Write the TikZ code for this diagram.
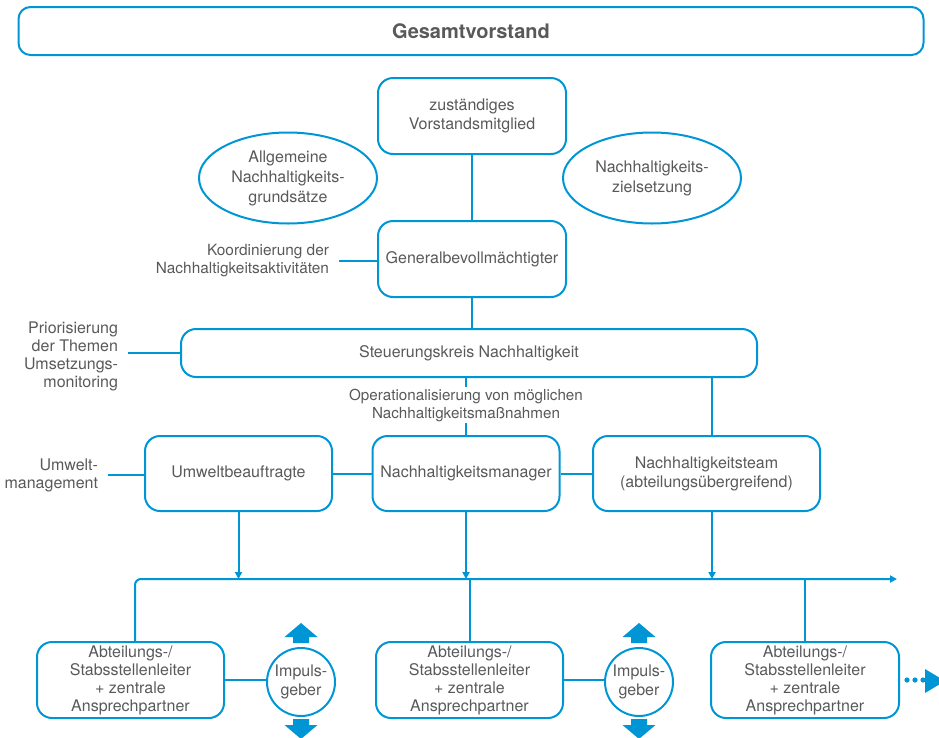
\documentclass[tikz,border=0pt]{standalone}
\usepackage{fontspec}
\setmainfont{TeX Gyre Heros}
\usepackage{xcolor}
\usetikzlibrary{positioning,arrows.meta,shapes.geometric}
\definecolor{blau}{RGB}{0,150,214}
\definecolor{grau}{RGB}{88,89,91}
\tikzset{
  box/.style={draw=blau, line width=2pt, rounded corners=15pt, align=center,
              text=grau, inner sep=0pt, font=\fontsize{16}{19}\selectfont},
  oval/.style={ellipse, draw=blau, line width=2pt, align=center, text=grau,
               inner sep=0pt, minimum width=178pt, minimum height=91pt,
               font=\fontsize{16}{20}\selectfont},
  note/.style={align=right, text=grau, inner sep=0pt, outer sep=10pt,
               font=\fontsize{16}{18}\selectfont},
  impuls/.style={circle, draw=blau, line width=2pt, align=center, text=grau,
                 inner sep=0pt, minimum size=68pt, font=\fontsize{16}{19}\selectfont},
  line/.style={draw=blau, line width=2pt},
  impulspfeil/.pic={\fill[blau] (-8,0) -- (-8,-6) -- (-16.5,-6) -- (0,-20)
                    -- (16.5,-6) -- (8,-6) -- (8,0) -- cycle;}
}
\begin{document}
\begin{tikzpicture}[x=1pt,y=-1pt,>={Triangle[length=7pt,width=7pt]}]
\useasboundingbox (0,0) rectangle (939,737);
% obere Ebene
\node[box, rounded corners=12pt, minimum width=905pt, minimum height=48pt,
      font=\fontsize{20}{22}\selectfont\bfseries] (gesamt) at (471,31) {Gesamtvorstand};
\node[box, minimum width=188pt, minimum height=76pt] (vorstand) at (472,116)
     {zuständiges\\Vorstandsmitglied};
\node[oval] (grundsaetze) at (288,178) {Allgemeine\\Nachhaltigkeits-\\grundsätze};
\node[oval] (ziel) at (652,178) {Nachhaltigkeits-\\zielsetzung};
\node[box, minimum width=188pt, minimum height=76pt] (general) at (472,259)
     {Generalbevollmächtigter};
\node[note, anchor=east, font=\fontsize{15.4}{18}\selectfont] (koord) at (339,261)
     {Koordinierung der\\Nachhaltigkeitsaktivitäten};
\node[box, minimum width=576pt, minimum height=48pt] (steuerung) at (469,353)
     {Steuerungskreis Nachhaltigkeit};
\node[note, anchor=east] (prior) at (128,356) {Priorisierung\\der Themen\\Umsetzungs-\\monitoring};
% mittlere Ebene
\node[box, minimum width=187pt, minimum height=75pt] (umwelt) at (238.5,473.5) {Umweltbeauftragte};
\node[box, minimum width=187pt, minimum height=75pt] (manager) at (466,473.5) {Nachhaltigkeitsmanager};
\node[box, minimum width=227pt, minimum height=75pt] (team) at (706.5,473.5)
     {Nachhaltigkeitsteam\\(abteilungsübergreifend)};
\node[note, anchor=east] (umweltnote) at (108,475) {Umwelt-\\management};
% untere Ebene
\node[box, minimum width=187pt, minimum height=76pt, font=\fontsize{16}{18}\selectfont] (abt1) at (130.5,680)
     {Abteilungs-/\\Stabsstellenleiter\\+ zentrale\\Ansprechpartner};
\node[box, minimum width=187pt, minimum height=76pt, font=\fontsize{16}{18}\selectfont] (abt2) at (469.5,680)
     {Abteilungs-/\\Stabsstellenleiter\\+ zentrale\\Ansprechpartner};
\node[box, minimum width=188pt, minimum height=76pt, font=\fontsize{16}{18}\selectfont] (abt3) at (805,680)
     {Abteilungs-/\\Stabsstellenleiter\\+ zentrale\\Ansprechpartner};
\node[impuls] (imp1) at (301,682) {Impuls-\\geber};
\node[impuls] (imp2) at (639,682) {Impuls-\\geber};
\coordinate (busL) at (135,579);
\coordinate (busR) at (897,579);
% Verbindungen
\draw[line] (vorstand) -- (general);
\draw[line] (general.south) -- (general.south |- steuerung.north);
\draw[line] (koord.east) -- (koord.east -| general.west);
\draw[line] (steuerung.west) -- (steuerung.west -| prior.east);
\draw[line] (manager.north) -- (manager.north |- steuerung.south);
\draw[line] ([xshift=5.5pt]team.north) -- ([xshift=5.5pt]team.north |- steuerung.south);
\node[text=grau, fill=white, inner sep=2pt, align=center,
      font=\fontsize{15.2}{18}\selectfont] (oper) at (466,405)
     {Operationalisierung von möglichen\\Nachhaltigkeitsmaßnahmen};
\draw[line] (umweltnote.east) -- (umweltnote.east -| umwelt.west);
\draw[line] (umwelt) -- (manager);
\draw[line] (manager) -- (team);
\draw[line,->] (umwelt.south) -- (umwelt.south |- busL);
\draw[line,->] (manager.south) -- (manager.south |- busL);
\draw[line,->] ([xshift=5.5pt]team.south) -- ([xshift=5.5pt]team.south |- busL);
\draw[line,->,rounded corners=6pt] (busL |- abt1.north) -- (busL) -- (busR);
\draw[line] (abt2.north) -- (abt2.north |- busL);
\draw[line] (abt3.north) -- (abt3.north |- busL);
\draw[line] (abt1.east) -- (abt1.east -| imp1.west);
\draw[line] (abt2.east) -- (abt2.east -| imp2.west);
% Impulspfeile
\pic at ([yshift=4pt]imp1.north) {impulspfeil};
\pic[rotate=180] at ([yshift=-2pt]imp1.south) {impulspfeil};
\pic at ([yshift=4pt]imp2.north) {impulspfeil};
\pic[rotate=180] at ([yshift=-2pt]imp2.south) {impulspfeil};
% Fortsetzung
\foreach \x in {907,915,923} \fill[blau] (\x,680) circle (2.6);
\fill[blau] (925,669) -- (945,681) -- (925,693) -- cycle;
\end{tikzpicture}
\end{document}
